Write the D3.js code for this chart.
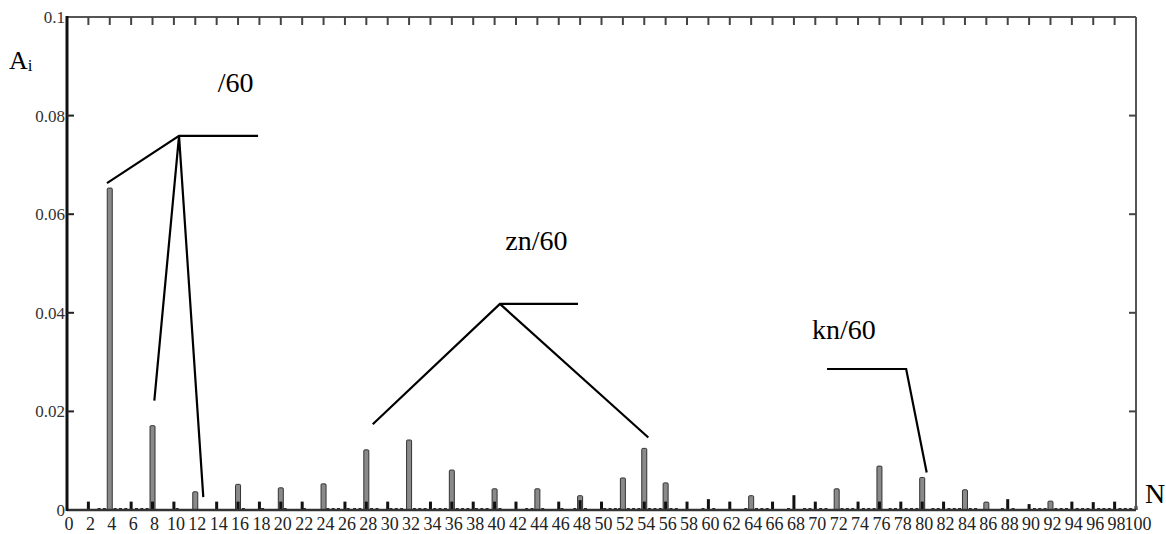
<!DOCTYPE html>
<html>
<head>
<meta charset="utf-8">
<script src="https://cdn.jsdelivr.net/npm/d3@7"></script>
<style>
  body { margin: 0; background: #fff; }
</style>
</head>
<body>
<div id="chart"></div>
<script>
width = 1166;
height = 534;

// main (grey, outlined) harmonics
const mainOrders = [4, 8, 12, 16, 20, 24, 28, 32, 36, 40, 44, 48, 52, 54, 56, 64, 72, 76, 80, 84, 86, 92];
const mainValues = [0.0653, 0.0171, 0.0037, 0.0052, 0.0045, 0.0053, 0.0122, 0.0142, 0.0081, 0.0043, 0.0043, 0.0029,
  0.0065, 0.0125, 0.0055, 0.0029, 0.0043, 0.0089, 0.0066, 0.0041, 0.0016, 0.0018];

// small black components
const stemOrders = [2, 6, 8, 10, 14, 16, 18, 20, 22, 26, 28, 30, 34, 36, 38, 40, 42, 46, 48, 50, 54, 56, 58, 60, 62,
  66, 68, 70, 74, 76, 78, 80, 82, 88, 90, 94, 96, 98, 100];
const stemValues = [0.0017, 0.0017, 0.0017, 0.0017, 0.0017, 0.0017, 0.0017, 0.0017, 0.0017, 0.0017, 0.0017, 0.0017,
  0.0017, 0.0017, 0.0017, 0.0017, 0.0017, 0.0017, 0.002, 0.0017, 0.0017, 0.0017, 0.0017, 0.0022, 0.0017,
  0.0017, 0.003, 0.0017, 0.0017, 0.0017, 0.0017, 0.0017, 0.0017, 0.0022, 0.0012, 0.0017, 0.0016, 0.0017, 0.0008];

// tiny components along the floor
const tinyOrders = [3, 3.5, 4.5, 5, 5.5, 6.5, 7, 7.5, 10.3, 16.5, 18.3, 20.4, 22.2, 24.4, 24.9, 25.4, 26.3, 26.9, 27.4,
  28.5, 29, 30.3, 30.8, 31.3, 32.5, 33, 33.5, 34.4, 34.9, 35.4, 36.5, 37, 37.5, 38.3, 38.8, 39.3, 40.5, 43, 43.5, 44.5,
  46.3, 47.5, 48.5, 50.3, 50.8, 51.3, 51.7, 52.5, 53, 53.5, 54.5, 55, 55.5, 56.5, 57, 59.5, 60.5, 63.5, 64.5, 65, 65.5,
  67.5, 69, 69.5, 70.5, 71, 72.5, 73, 73.5, 74.5, 75, 75.5, 77, 77.5, 78.5, 79, 79.5, 81, 81.5, 82.5, 83, 83.5, 84.5,
  85, 87.5, 88.5, 90.5, 91, 91.5, 92.5, 93, 93.5, 94.5, 95, 95.5, 96.5, 97, 97.5, 98.5, 99, 99.5];
const tinyValue = 0.0004;

const yTicks = [0, 0.02, 0.04, 0.06, 0.08, 0.1];
const yTickLabels = ["0", "0.02", "0.04", "0.06", "0.08", "0.1"];
const xTicks = d3.range(0, 101, 2);

// annotation leader lines in data units [order, amplitude]
const leaders = [
  [[3.74, 0.0663], [10.48, 0.0759], [17.87, 0.0759]],
  [[8.17, 0.0222], [10.48, 0.0759], [12.75, 0.0026]],
  [[28.6, 0.0174], [40.5, 0.0418], [47.8, 0.0418]],
  [[40.5, 0.0418], [54.38, 0.0147]],
  [[71.1, 0.0286], [78.5, 0.0286], [80.42, 0.0076]]
];
const notes = [
  { text: "/60", order: 14.1, amp: 0.0848 },
  { text: "zn/60", order: 41.0, amp: 0.0527 },
  { text: "kn/60", order: 69.7, amp: 0.0347 }
];

const margin = { left: 67, right: 30, top: 17, bottom: 24 };

const x = d3.scaleLinear().domain([0, 100]).range([margin.left, width - margin.right]);
const y = d3.scaleLinear().domain([0, 0.1]).range([height - margin.bottom, margin.top]);

const svg = d3.select("#chart").append("svg")
  .attr("width", width)
  .attr("height", height)
  .attr("font-family", "'Liberation Serif', 'Times New Roman', serif");

// tiny floor components
svg.append("g").selectAll("rect")
  .data(tinyOrders)
  .join("rect")
  .attr("x", d => x(d) - 1.5)
  .attr("width", 3)
  .attr("y", y(tinyValue))
  .attr("height", y(0) - y(tinyValue))
  .attr("fill", "#222");

// main grey bars
svg.append("g").selectAll("rect")
  .data(mainOrders.map((o, i) => ({ o, v: mainValues[i] })))
  .join("rect")
  .attr("x", d => x(d.o) - 2.5)
  .attr("width", 5)
  .attr("y", d => y(d.v))
  .attr("height", d => y(0) - y(d.v))
  .attr("rx", 1)
  .attr("fill", "#8a8a8a")
  .attr("stroke", "#333")
  .attr("stroke-width", 1);

// black stems
svg.append("g").selectAll("rect")
  .data(stemOrders.map((o, i) => ({ o, v: stemValues[i] })))
  .join("rect")
  .attr("x", d => x(d.o) - 1.5)
  .attr("width", 3)
  .attr("y", d => y(d.v))
  .attr("height", d => y(0) - y(d.v))
  .attr("fill", "#111");

// frame
svg.append("line")
  .attr("x1", x(0)).attr("x2", x(100))
  .attr("y1", y(0.1)).attr("y2", y(0.1))
  .attr("stroke", "#555").attr("stroke-width", 2);
svg.append("line")
  .attr("x1", x(100)).attr("x2", x(100))
  .attr("y1", y(0.1)).attr("y2", y(0))
  .attr("stroke", "#555").attr("stroke-width", 2);
svg.append("line")
  .attr("x1", x(0)).attr("x2", x(100))
  .attr("y1", y(0)).attr("y2", y(0))
  .attr("stroke", "#333").attr("stroke-width", 2.5);
svg.append("line")
  .attr("x1", x(0)).attr("x2", x(0))
  .attr("y1", y(0.1) - 1).attr("y2", y(0) + 1)
  .attr("stroke", "#111").attr("stroke-width", 3);

// top ticks pointing inward
svg.append("g").selectAll("line")
  .data(xTicks.filter(d => d > 0 && d < 100))
  .join("line")
  .attr("x1", d => x(d)).attr("x2", d => x(d))
  .attr("y1", y(0.1)).attr("y2", y(0.1) + 8)
  .attr("stroke", "#444").attr("stroke-width", 2);

// y ticks, both sides
svg.append("g").selectAll("line")
  .data(yTicks.filter(d => d > 0 && d < 0.1))
  .join("line")
  .attr("x1", x(0)).attr("x2", x(0) + 7)
  .attr("y1", d => y(d)).attr("y2", d => y(d))
  .attr("stroke", "#222").attr("stroke-width", 2);
svg.append("g").selectAll("line")
  .data(yTicks.filter(d => d > 0 && d < 0.1))
  .join("line")
  .attr("x1", x(100)).attr("x2", x(100) - 7)
  .attr("y1", d => y(d)).attr("y2", d => y(d))
  .attr("stroke", "#444").attr("stroke-width", 2);

// y tick labels
svg.append("g").selectAll("text")
  .data(yTicks)
  .join("text")
  .attr("x", x(0) - 2)
  .attr("y", d => y(d) + 6)
  .attr("text-anchor", "end")
  .attr("font-size", 17)
  .attr("fill", "#333")
  .text((d, i) => yTickLabels[i]);

// x tick labels
svg.append("g").selectAll("text")
  .data(xTicks)
  .join("text")
  .attr("x", d => x(d) + 2)
  .attr("y", y(0) + 20)
  .attr("text-anchor", "middle")
  .attr("font-size", 18)
  .attr("fill", "#222")
  .text(d => d);

// leader lines
const line = d3.line().x(d => x(d[0])).y(d => y(d[1]));
svg.append("g").selectAll("path")
  .data(leaders)
  .join("path")
  .attr("d", line)
  .attr("fill", "none")
  .attr("stroke", "#000")
  .attr("stroke-width", 2.2);

svg.append("g").selectAll("text")
  .data(notes)
  .join("text")
  .attr("x", d => x(d.order))
  .attr("y", d => y(d.amp))
  .attr("font-size", 28)
  .attr("fill", "#000")
  .text(d => d.text);

// axis titles
const ai = svg.append("text")
  .attr("x", 9)
  .attr("y", 69)
  .attr("font-size", 26)
  .attr("fill", "#000");
ai.append("tspan").text("A");
ai.append("tspan").attr("font-size", 17).attr("dy", 2).text("i");

svg.append("text")
  .attr("x", 1145)
  .attr("y", 503)
  .attr("font-size", 28)
  .attr("fill", "#000")
  .text("N");
</script>
</body>
</html>
